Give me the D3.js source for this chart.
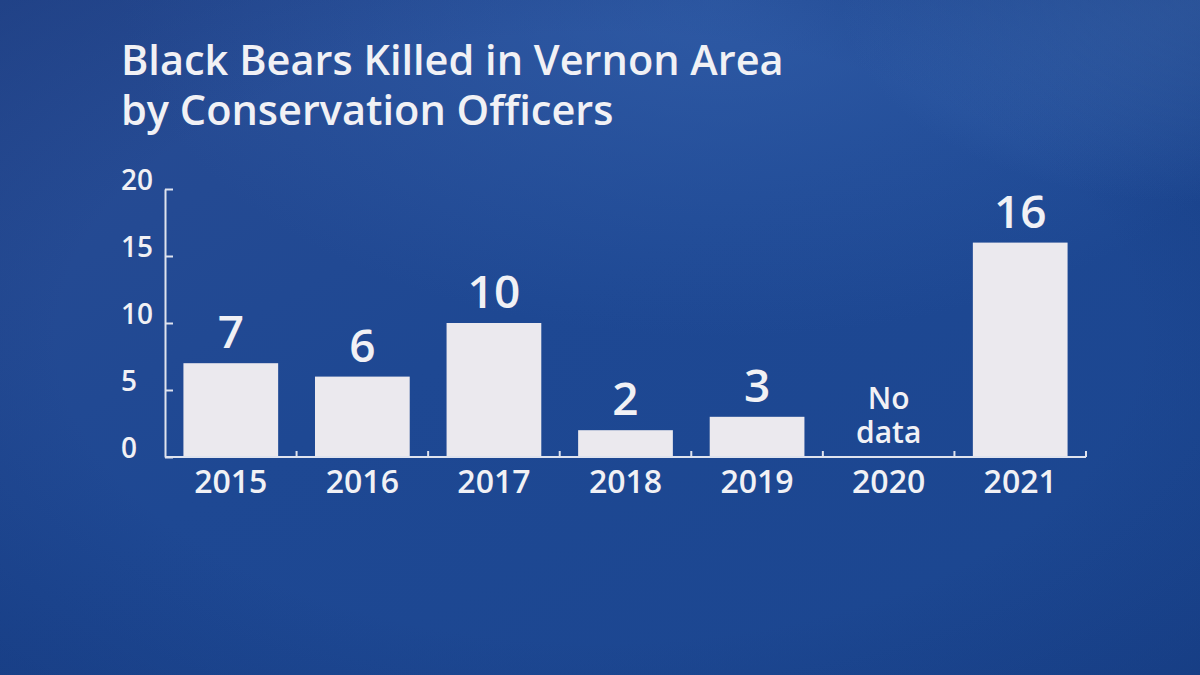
<!DOCTYPE html>
<html>
<head>
<meta charset="utf-8">
<script src="https://cdn.jsdelivr.net/npm/d3@7"></script>
<style>
  html, body { margin: 0; padding: 0; background: #1d4690; }
  svg { display: block; }
  text { font-family: "Open Sans", "Noto Sans", sans-serif; fill: #f1f1f5; }
</style>
</head>
<body>
<svg id="chart" width="1200" height="675"></svg>
<script>
// Bear kills by year; 2020 has no reported figure
const years = ["2015", "2016", "2017", "2018", "2019", "2020", "2021"];
const bearsKilled = [7, 6, 10, 2, 3, null, 16];
const yTicks = [0, 5, 10, 15, 20];
const titleLines = ["Black Bears Killed in Vernon Area", "by Conservation Officers"];
const missingLabel = ["No", "data"];

const W = 1200, H = 675;
const margin = { left: 165, right: 114, top: 189, bottom: 218 };

const svg = d3.select("#chart");
const defs = svg.append("defs");

// Broadcast-style blue backdrop
const bg = defs.append("linearGradient").attr("id", "bg")
  .attr("x1", "0").attr("y1", "0").attr("x2", "1").attr("y2", "1");
bg.append("stop").attr("offset", "0%").attr("stop-color", "#2a4c93");
bg.append("stop").attr("offset", "45%").attr("stop-color", "#1e4893");
bg.append("stop").attr("offset", "100%").attr("stop-color", "#1b4690");

const glow = defs.append("radialGradient").attr("id", "glow")
  .attr("cx", "0.6").attr("cy", "0.0").attr("r", "0.5");
glow.append("stop").attr("offset", "0%").attr("stop-color", "#3664b0").attr("stop-opacity", 0.6);
glow.append("stop").attr("offset", "100%").attr("stop-color", "#3664b0").attr("stop-opacity", 0);

const glow2 = defs.append("radialGradient").attr("id", "glow2")
  .attr("cx", "1.0").attr("cy", "0.0").attr("r", "0.3");
glow2.append("stop").attr("offset", "0%").attr("stop-color", "#4a78be").attr("stop-opacity", 0.6);
glow2.append("stop").attr("offset", "100%").attr("stop-color", "#4a78be").attr("stop-opacity", 0);

const edge = defs.append("radialGradient").attr("id", "edge")
  .attr("cx", "0.5").attr("cy", "0.5").attr("r", "0.75");
edge.append("stop").attr("offset", "60%").attr("stop-color", "#0f2f70").attr("stop-opacity", 0);
edge.append("stop").attr("offset", "100%").attr("stop-color", "#0f2f70").attr("stop-opacity", 0.4);

svg.append("rect").attr("width", W).attr("height", H).attr("fill", "url(#bg)");
svg.append("rect").attr("width", W).attr("height", H).attr("fill", "url(#glow)");
svg.append("rect").attr("width", W).attr("height", H).attr("fill", "url(#glow2)");
svg.append("rect").attr("width", W).attr("height", H).attr("fill", "url(#edge)");

// Title, one text element per line
svg.append("g").selectAll("text")
  .data(titleLines).join("text")
  .attr("x", 121)
  .attr("y", (d, i) => 75 + i * 50)
  .style("font-size", "41.5px").style("font-weight", 600)
  .text(d => d);

// Scales
const x = d3.scaleBand()
  .domain(years)
  .range([margin.left, W - margin.right])
  .paddingInner(0.28).paddingOuter(0.14);

const y = d3.scaleLinear()
  .domain([0, 20])
  .range([H - margin.bottom, margin.top]);

const axisColor = "#dfe3ee";

// Bars
const data = years.map((yr, i) => ({ year: yr, value: bearsKilled[i] }));
svg.append("g").selectAll("rect")
  .data(data.filter(d => d.value != null)).join("rect")
  .attr("x", d => x(d.year))
  .attr("width", x.bandwidth())
  .attr("y", d => y(d.value))
  .attr("height", d => y(0) - y(d.value))
  .attr("fill", "#ebe9ee");

// Value labels
svg.append("g").selectAll("text")
  .data(data.filter(d => d.value != null)).join("text")
  .attr("x", d => x(d.year) + x.bandwidth() / 2)
  .attr("y", d => y(d.value) - 15)
  .attr("text-anchor", "middle")
  .style("font-size", "46px").style("font-weight", 600)
  .text(d => d.value);

// "No data" note for the missing year, one text element per line
const missing = data.filter(d => d.value == null);
missing.forEach(d => {
  svg.append("g").selectAll("text")
    .data(missingLabel).join("text")
    .attr("x", x(d.year) + x.bandwidth() / 2)
    .attr("y", (t, i) => y(0) - 14 - (missingLabel.length - 1 - i) * 34)
    .attr("text-anchor", "middle")
    .style("font-size", "30px").style("font-weight", 600)
    .text(t => t);
});

// Y axis: ticks point into the plot, labels left-aligned
const yAxis = svg.append("g")
  .attr("transform", `translate(${margin.left},0)`)
  .call(d3.axisLeft(y).tickValues(yTicks).tickSizeInner(-8).tickSizeOuter(0).tickPadding(0));
yAxis.select(".domain").attr("stroke", axisColor).attr("stroke-width", 2);
yAxis.selectAll(".tick line").attr("stroke", axisColor).attr("stroke-width", 2);
yAxis.selectAll(".tick text")
  .attr("x", -44).attr("dy", 0)
  .attr("text-anchor", "start")
  .attr("fill", "#f1f1f5")
  .style("font-family", "\"Open Sans\", sans-serif")
  .style("font-size", "28px").style("font-weight", 600);

// X axis: labels under each bar, short ticks between categories
const xAxis = svg.append("g")
  .attr("transform", `translate(0,${y(0)})`)
  .call(d3.axisBottom(x).tickSize(0).tickPadding(13));
xAxis.select(".domain").attr("stroke", axisColor).attr("stroke-width", 2)
  .attr("d", `M${margin.left},0H${W - margin.right}`);
xAxis.selectAll(".tick text")
  .attr("dy", "0.71em")
  .attr("fill", "#f1f1f5")
  .style("font-family", "\"Open Sans\", sans-serif")
  .style("font-size", "32px").style("font-weight", 600);

const step = x.step();
const boundaries = years.map((yr, i) => margin.left + (i + 1) * step);
xAxis.append("g").selectAll("line")
  .data(boundaries).join("line")
  .attr("x1", d => d).attr("x2", d => d)
  .attr("y1", 0).attr("y2", -6)
  .attr("stroke", axisColor).attr("stroke-width", 2);
</script>
</body>
</html>
